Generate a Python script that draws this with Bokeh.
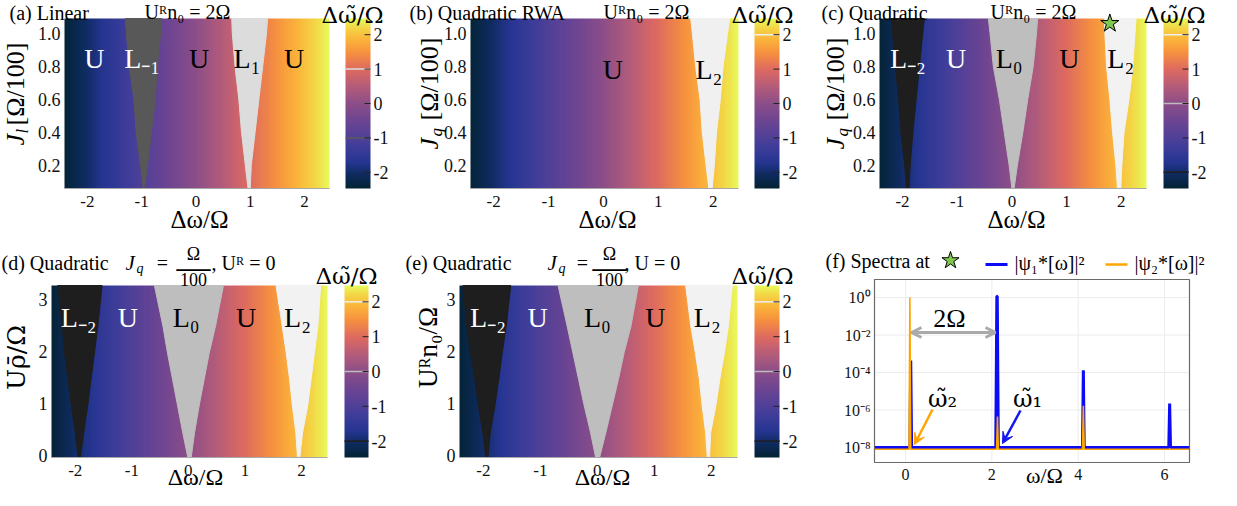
import numpy as np
from bokeh.plotting import figure
from bokeh.layouts import row, column
from bokeh.models import Range1d, LinearColorMapper, Label, Arrow, OpenHead, VeeHead
from bokeh.core.properties import value
from bokeh.embed import file_html
from bokeh.resources import INLINE

SERIF = "Liberation Serif"
MATH = "DejaVu Serif"

# ---------------- data ----------------
dw_ticks = [-2, -1, 0, 1, 2]
dw_tick_labels = ["-2", "-1", "0", "1", "2"]
cb_ticks = [-2, -1, 0, 1, 2]
cb_tick_labels = ["-2", "-1", "0", "1", "2"]
J_ticks = [0.2, 0.4, 0.6, 0.8, 1.0]
J_tick_labels = ["0.2", "0.4", "0.6", "0.8", "1.0"]
U_ticks = [0, 1, 2, 3]
U_tick_labels = ["0", "1", "2", "3"]
dw_range = [-2.42, 2.46]
cb_range = [-2.47, 2.47]
J_range = [0.06, 1.09]
U_range = [-0.03, 3.27]
dw_grid = np.linspace(-2.42, 2.46, 489)      # Δω sampling of the maps (colour = Δω̃)
cb_grid = np.linspace(-2.47, 2.47, 256)      # colour-bar values

# tongue boundaries
J_levels = [0.06, 0.2, 0.4, 0.6, 0.8, 1.0, 1.09]
a_Lm1_left = [-0.97, -1.02, -1.10, -1.14, -1.23, -1.28, -1.30]
a_Lm1_right = [-0.95, -0.89, -0.82, -0.75, -0.71, -0.65, -0.63]
a_L1_left = [0.96, 0.91, 0.84, 0.79, 0.72, 0.67, 0.66]
a_L1_right = [1.00, 1.02, 1.09, 1.16, 1.23, 1.30, 1.32]
b_L2_left = [1.92, 1.87, 1.80, 1.76, 1.68, 1.62, 1.59]
b_L2_right = [1.98, 2.02, 2.06, 2.13, 2.18, 2.26, 2.30]
c_Lm2_left = [-1.93, -1.96, -2.03, -2.07, -2.13, -2.18, -2.21]
c_Lm2_right = [-1.88, -1.86, -1.81, -1.75, -1.69, -1.63, -1.60]
c_L0_left = [0.00, -0.05, -0.14, -0.23, -0.34, -0.40, -0.43]
c_L0_right = [0.04, 0.10, 0.20, 0.29, 0.39, 0.45, 0.47]
c_L2_left = [1.93, 1.90, 1.84, 1.79, 1.73, 1.70, 1.69]
c_L2_right = [1.99, 2.01, 2.05, 2.14, 2.21, 2.25, 2.27]

U_levels = [-0.03, 0.45, 0.96, 1.47, 1.98, 2.49, 3.27]
d_Lm2_left = [-1.95, -2.00, -2.07, -2.13, -2.19, -2.23, -2.31]
d_Lm2_right = [-1.91, -1.85, -1.78, -1.72, -1.66, -1.60, -1.525]
d_L0_left = [-0.01, -0.10, -0.19, -0.28, -0.37, -0.45, -0.60]
d_L0_right = [0.05, 0.11, 0.19, 0.28, 0.37, 0.48, 0.62]
d_L2_left = [1.93, 1.90, 1.84, 1.79, 1.73, 1.66, 1.55]
d_L2_right = [1.97, 2.02, 2.11, 2.17, 2.23, 2.29, 2.34]
e_Lm2_left = [-1.96, -2.01, -2.09, -2.15, -2.23, -2.29, -2.36]
e_Lm2_right = [-1.92, -1.88, -1.80, -1.73, -1.67, -1.60, -1.52]
e_L0_left = [-0.03, -0.12, -0.23, -0.33, -0.43, -0.53, -0.69]
e_L0_right = [0.04, 0.15, 0.26, 0.37, 0.47, 0.59, 0.72]
e_L2_left = [1.93, 1.90, 1.84, 1.79, 1.72, 1.64, 1.55]
e_L2_right = [1.97, 1.99, 2.08, 2.15, 2.23, 2.30, 2.37]

# region labels
a_reg_text = ["U", "L₋₁", "U", "L₁", "U"]
a_reg_x = [-1.87, -0.99, 0.06, 0.94, 1.81]
a_reg_col = ["white", "white", "black", "black", "black"]
b_reg_text = ["U", "L₂"]
b_reg_x = [0.17, 1.92]
b_reg_col = ["black", "black"]
q_reg_text = ["L₋₂", "U", "L₀", "U", "L₂"]
q_reg_col = ["white", "white", "black", "black", "black"]
c_reg_x = [-1.90, -1.02, -0.05, 1.05, 1.99]
d_reg_x = [-1.94, -1.07, -0.04, 1.02, 1.93]
e_reg_x = [-1.92, -1.05, 0.00, 1.02, 1.93]

# colour-bar marks
a_marks, a_mark_cols = [1.0, -1.0], ["#dcdcdc", "#5a5a5a"]
b_marks, b_mark_cols = [2.0], ["#f0f0f0"]
q_marks, q_mark_cols = [2.0, 0.0, -2.0], ["#eeeeee", "#bdbdbd", "#1e1e1e"]

star_dw = [1.79]
star_J = [1.06]

# spectra
w_ticks = [0, 2, 4, 6]
w_tick_labels = ["0", "2", "4", "6"]
w_range = [-0.72, 6.58]
spec_ticks = [1.0, 1e-2, 1e-4, 1e-6, 1e-8]
spec_tick_labels = ["10⁰", "10⁻²", "10⁻⁴", "10⁻⁶", "10⁻⁸"]
spec_log_range = [-8.8, 0.96]
omega_1 = [-0.72, 0.10, 0.12, 0.14, 2.09, 2.115, 2.125, 2.15, 4.10, 4.12, 4.14, 6.10, 6.12, 6.14, 6.58]
spec_1 = [1.0e-8, 1.0e-8, 4.4e-4, 1.0e-8, 1.0e-8, 1.15, 1.15, 1.0e-8, 1.0e-8, 1.3e-4, 1.0e-8,
          1.0e-8, 2.2e-6, 1.0e-8, 1.0e-8]
omega_2 = [-0.72, 0.08, 0.10, 0.12, 2.11, 2.13, 2.15, 4.10, 4.12, 4.14, 6.58]
spec_2 = [0.8e-8, 0.8e-8, 1.0, 0.8e-8, 0.8e-8, 4.5e-7, 0.8e-8, 0.8e-8, 1.7e-6, 0.8e-8, 0.8e-8]

# ---------------- palette (thermal-like) ----------------
stops = [(0.00, "#042333"), (0.08, "#0e2b5e"), (0.15, "#253591"), (0.25, "#413d9a"),
         (0.40, "#6e4592"), (0.50, "#8c4e88"), (0.60, "#b45c7a"), (0.70, "#de6a60"),
         (0.80, "#f6903f"), (0.88, "#fbb43a"), (0.95, "#f3d847"), (1.00, "#e8fa5b")]


def hexrgb(h):
    return tuple(int(h[i:i + 2], 16) for i in (1, 3, 5))


pal = []
for i in range(256):
    t = i / 255
    for k in range(len(stops) - 1):
        t0, c0 = stops[k]
        t1, c1 = stops[k + 1]
        if t0 <= t <= t1:
            f = (t - t0) / (t1 - t0)
            a, b = hexrgb(c0), hexrgb(c1)
            pal.append("#%02x%02x%02x" % tuple(int(round(a[j] + (b[j] - a[j]) * f)) for j in range(3)))
            break
mapper = LinearColorMapper(palette=pal, low=cb_range[0], high=cb_range[1])

# page geometry: fig_x, fig_y, W, H, frame_l, frame_r, frame_t, frame_b, map_r, cbar_l
geo = {
    "a": (8, 8, 402, 242, 72, 378, 26, 196, 337, 353),
    "b": (410, 8, 410, 242, 478, 787, 26, 196, 746, 762),
    "c": (820, 8, 409, 242, 887, 1196, 26, 196, 1154, 1171),
    "d": (8, 250, 402, 248, 59, 376, 293, 465, 335, 352),
    "e": (410, 250, 410, 248, 467, 787, 293, 465, 745, 762),
}


def new_fig(W, H, xr, yr, log=False):
    p = figure(width=W, height=H, x_range=Range1d(xr[0], xr[1]), y_range=Range1d(yr[0], yr[1]),
               min_border_left=0, min_border_right=0, min_border_top=0, min_border_bottom=0,
               x_axis_location=None, y_axis_location=None, y_axis_type="log" if log else "linear",
               toolbar_location=None, output_backend="svg", title=None)
    p.grid.visible = False
    p.outline_line_color = None
    return p


def put(p, conv, px, py, text, size, color="black", align="left", style="normal", angle=0.0, font=SERIF):
    x, y = conv(px, py)
    p.add_layout(Label(x=x, y=y, text=text, text_font=font, text_font_size=f"{size}px",
                       text_color=color, text_align=align, text_baseline="middle",
                       text_font_style=style, angle=angle))


def heat(key, yr, yticks, ylabels, levels, tongues, reg_text, reg_x, reg_y, reg_col, marks, mark_cols):
    gx, gy, W, H, fl, fr, ft, fb, hr, cl = geo[key]
    sx = (hr - fl) / (dw_range[1] - dw_range[0])
    sy = (fb - ft) / (yr[1] - yr[0])
    scb = (fb - ft) / (cb_range[1] - cb_range[0])

    def X(px):
        return dw_range[0] + (px - fl) / sx

    def Y(py):
        return yr[1] - (py - ft) / sy

    def YC(py):
        return cb_range[1] - (py - ft) / scb

    p = new_fig(W, H, (X(gx), X(gx + W)), (Y(gy + H), Y(gy)))
    p.extra_y_ranges = {"cb": Range1d(YC(gy + H), YC(gy))}
    # map
    p.image(image=[dw_grid[np.newaxis, :]], x=dw_range[0], y=yr[0],
            dw=dw_range[1] - dw_range[0], dh=yr[1] - yr[0], color_mapper=mapper)
    for left, right, col in tongues:
        p.patch(x=list(left) + list(right)[::-1], y=list(levels) + list(levels)[::-1],
                fill_color=col, line_color=col, line_width=1)
    p.text(x=reg_x, y=[reg_y] * len(reg_x), text=reg_text, text_color=reg_col,
           text_font=value(SERIF), text_font_size="28px", text_align="center", text_baseline="middle")
    # map axes
    p.segment(x0=[dw_range[0]], x1=[dw_range[1]], y0=[yr[0]], y1=[yr[0]], line_color="#a8a8a8", line_width=1)
    p.text(x=dw_ticks, y=[Y(fb + 13)] * len(dw_ticks), text=dw_tick_labels, text_font=value(SERIF),
           text_font_size="17px", text_align="center", text_baseline="middle", text_color="#111111")
    p.text(x=[X(fl - 4)] * len(yticks), y=yticks, text=ylabels, text_font=value(SERIF),
           text_font_size="18px", text_align="right", text_baseline="middle", text_color="#111111")
    # colour bar
    cx0, cx1 = X(cl), X(fr)
    p.image(image=[cb_grid[:, np.newaxis]], x=cx0, y=cb_range[0], dw=cx1 - cx0,
            dh=cb_range[1] - cb_range[0], color_mapper=mapper, y_range_name="cb")
    p.segment(x0=[cx0] * len(marks), x1=[cx1] * len(marks), y0=marks, y1=marks,
              line_color=mark_cols, line_width=1.5, y_range_name="cb")
    p.segment(x0=[X(fr - 6)] * len(cb_ticks), x1=[cx1] * len(cb_ticks), y0=cb_ticks, y1=cb_ticks,
              line_color="#222222", line_width=1, y_range_name="cb")
    p.text(x=[X(fr + 3)] * len(cb_ticks), y=cb_ticks, text=cb_tick_labels, text_font=value(SERIF),
           text_font_size="18px", text_align="left", text_baseline="middle", text_color="#111111",
           y_range_name="cb")

    def conv(px, py):
        return X(px), Y(py)
    return p, conv


ROT = np.pi / 2
CBT = "Δω̃/Ω"

# ---- (a)
pa, ca = heat("a", J_range, J_ticks, J_tick_labels, J_levels,
              [(a_Lm1_left, a_Lm1_right, "#585858"), (a_L1_left, a_L1_right, "#dcdcdc")],
              a_reg_text, a_reg_x, 0.85, a_reg_col, a_marks, a_mark_cols)
put(pa, ca, 17, 20, "(a) Linear", 20)
put(pa, ca, 195, 19, "Uᴿn₀ = 2Ω", 20, align="center")
put(pa, ca, 360, 22, CBT, 23, align="center", font=MATH)
put(pa, ca, 207, 227, "Δω/Ω", 25, align="center")
put(pa, ca, 23, 153, "J", 26, style="italic", angle=ROT)
put(pa, ca, 30, 141, "l", 17, style="italic", angle=ROT)
put(pa, ca, 23, 133, "[Ω/100]", 26, angle=ROT)

# ---- (b)
pb, cbv = heat("b", J_range, J_ticks, J_tick_labels, J_levels,
               [(b_L2_left, b_L2_right, "#f0f0f0")],
               b_reg_text, b_reg_x, 0.78, b_reg_col, b_marks, b_mark_cols)
put(pb, cbv, 417, 20, "(b) Quadratic RWA", 20)
put(pb, cbv, 654, 19, "Uᴿn₀ = 2Ω", 20, align="center")
put(pb, cbv, 770, 22, CBT, 23, align="center", font=MATH)
put(pb, cbv, 615, 227, "Δω/Ω", 25, align="center")
put(pb, cbv, 437, 157, "J", 26, style="italic", angle=ROT)
put(pb, cbv, 444, 144, "q", 17, style="italic", angle=ROT)
put(pb, cbv, 437, 128, "[Ω/100]", 26, angle=ROT)

# ---- (c)
pc, cc = heat("c", J_range, J_ticks, J_tick_labels, J_levels,
              [(c_Lm2_left, c_Lm2_right, "#1e1e1e"), (c_L0_left, c_L0_right, "#bebebe"),
               (c_L2_left, c_L2_right, "#f2f2f2")],
              q_reg_text, c_reg_x, 0.85, q_reg_col, q_marks, q_mark_cols)
pc.scatter(x=star_dw, y=star_J, marker="star", size=19, fill_color="#7ec850",
           line_color="black", line_width=1)
put(pc, cc, 829, 20, "(c) Quadratic", 20)
put(pc, cc, 1041, 19, "Uᴿn₀ = 2Ω", 20, align="center")
put(pc, cc, 1182, 22, CBT, 23, align="center", font=MATH)
put(pc, cc, 1024, 227, "Δω/Ω", 25, align="center")
put(pc, cc, 843, 157, "J", 26, style="italic", angle=ROT)
put(pc, cc, 850, 144, "q", 17, style="italic", angle=ROT)
put(pc, cc, 843, 128, "[Ω/100]", 26, angle=ROT)

# ---- (d)
pd, cd = heat("d", U_range, U_ticks, U_tick_labels, U_levels,
              [(d_Lm2_left, d_Lm2_right, "#1e1e1e"), (d_L0_left, d_L0_right, "#bebebe"),
               (d_L2_left, d_L2_right, "#f2f2f2")],
              q_reg_text, d_reg_x, 2.65, q_reg_col, q_marks, q_mark_cols)
put(pd, cd, 9, 270, "(d) Quadratic", 20)
put(pd, cd, 133, 270, "J", 21, style="italic")
put(pd, cd, 144, 276, "q", 14, style="italic")
put(pd, cd, 170, 270, "=", 20, align="center")
put(pd, cd, 201, 261, "Ω", 18, align="center")
put(pd, cd, 201, 274, "—", 34, align="center")
put(pd, cd, 201, 287, "100", 18, align="center")
put(pd, cd, 219, 270, ",  Uᴿ = 0", 20)
put(pd, cd, 354, 283, CBT, 23, align="center", font=MATH)
put(pd, cd, 203, 484, "Δω/Ω", 24, align="center")
put(pd, cd, 24, 365, "Uρ̄/Ω", 25, align="center", angle=ROT, font=MATH)

# ---- (e)
pe, ce = heat("e", U_range, U_ticks, U_tick_labels, U_levels,
              [(e_Lm2_left, e_Lm2_right, "#1e1e1e"), (e_L0_left, e_L0_right, "#bebebe"),
               (e_L2_left, e_L2_right, "#f2f2f2")],
              q_reg_text, e_reg_x, 2.65, q_reg_col, q_marks, q_mark_cols)
put(pe, ce, 413, 270, "(e) Quadratic", 20)
put(pe, ce, 555, 270, "J", 21, style="italic")
put(pe, ce, 566, 276, "q", 14, style="italic")
put(pe, ce, 590, 270, "=", 20, align="center")
put(pe, ce, 617, 261, "Ω", 18, align="center")
put(pe, ce, 617, 274, "—", 34, align="center")
put(pe, ce, 617, 287, "100", 18, align="center")
put(pe, ce, 632, 270, ",  U = 0", 20)
put(pe, ce, 770, 283, CBT, 23, align="center", font=MATH)
put(pe, ce, 610, 484, "Δω/Ω", 24, align="center")
put(pe, ce, 435, 355, "Uᴿn₀/Ω", 27, align="center", angle=ROT)

# ---- (f) spectra
gx, gy, W, H, fl, fr, ft, fb = 820, 250, 409, 248, 882, 1197, 287, 470
ly0, ly1 = spec_log_range


def FX(px):
    return w_range[0] + (px - fl) / (fr - fl) * (w_range[1] - w_range[0])


def FY(py):
    return 10 ** (ly1 - (py - ft) / (fb - ft) * (ly1 - ly0))


def cf(px, py):
    return FX(px), FY(py)


pf = new_fig(W, H, (FX(gx), FX(gx + W)), (FY(gy + H), FY(gy)), log=True)
ybot, ytop = 10 ** ly0, 10 ** ly1
pf.segment(x0=w_ticks, x1=w_ticks, y0=[ybot] * len(w_ticks), y1=[ytop] * len(w_ticks),
           line_color="#ececec", line_width=1)
pf.segment(x0=[w_range[0]] * len(spec_ticks), x1=[w_range[1]] * len(spec_ticks), y0=spec_ticks,
           y1=spec_ticks, line_color="#ececec", line_width=1)
pf.line(omega_1, spec_1, line_color="#0b0bf5", line_width=3)
pf.line(omega_2, spec_2, line_color="#ffa500", line_width=1.6)
pf.quad(left=[w_range[0]], right=[w_range[1]], bottom=[ybot], top=[ytop], fill_color=None,
        line_color="#6a6a6a", line_width=1.2)
pf.text(x=w_ticks, y=[FY(fb + 12)] * len(w_ticks), text=w_tick_labels, text_font=value(SERIF),
        text_font_size="16px", text_align="center", text_baseline="middle", text_color="#111111")
pf.text(x=[FX(fl - 4)] * len(spec_ticks), y=spec_ticks, text=spec_tick_labels, text_font=value(SERIF),
        text_font_size="16px", text_align="right", text_baseline="middle", text_color="#111111")

# legend (drawn by hand in the title strip)
pf.segment(x0=[FX(993)], x1=[FX(1015)], y0=[FY(272)], y1=[FY(272)], line_color="#0b0bf5", line_width=3)
pf.segment(x0=[FX(1113)], x1=[FX(1135)], y0=[FY(272)], y1=[FY(272)], line_color="#ffa500", line_width=2.5)
put(pf, cf, 1022, 270, "|ψ₁*[ω]|²", 20)
put(pf, cf, 1142, 270, "|ψ₂*[ω]|²", 20)
put(pf, cf, 833, 268, "(f) Spectra at", 20)
pf.scatter(x=[FX(958)], y=[FY(268)], marker="star", size=18, fill_color="#7ec850",
           line_color="black", line_width=1)

gray = "#aaaaaa"
a0, a1 = cf(919, 340), cf(1003, 340)
pf.add_layout(Arrow(start=OpenHead(size=10, line_color=gray, line_width=3),
                    end=OpenHead(size=10, line_color=gray, line_width=3),
                    x_start=a0[0], y_start=a0[1], x_end=a1[0], y_end=a1[1],
                    line_color=gray, line_width=3))
o0, o1 = cf(940, 417), cf(922, 452)
pf.add_layout(Arrow(end=VeeHead(size=11, fill_color="#ffa500", line_color="#ffa500"),
                    x_start=o0[0], y_start=o0[1], x_end=o1[0], y_end=o1[1],
                    line_color="#ffa500", line_width=2.5))
b0, b1 = cf(1028, 418), cf(1010, 451)
pf.add_layout(Arrow(end=VeeHead(size=11, fill_color="#1515ee", line_color="#1515ee"),
                    x_start=b0[0], y_start=b0[1], x_end=b1[0], y_end=b1[1],
                    line_color="#1515ee", line_width=2.5))
put(pf, cf, 957, 326, "2Ω", 26, align="center")
put(pf, cf, 950, 406, "ω̃₂", 24, align="center", font=MATH)
put(pf, cf, 1035, 406, "ω̃₁", 24, align="center", font=MATH)
put(pf, cf, 1052, 483, "ω/Ω", 22, align="center")

layout = column(row(pa, pb, pc), row(pd, pe, pf))
open("out.html", "w").write(file_html(layout, INLINE, "chart"))
